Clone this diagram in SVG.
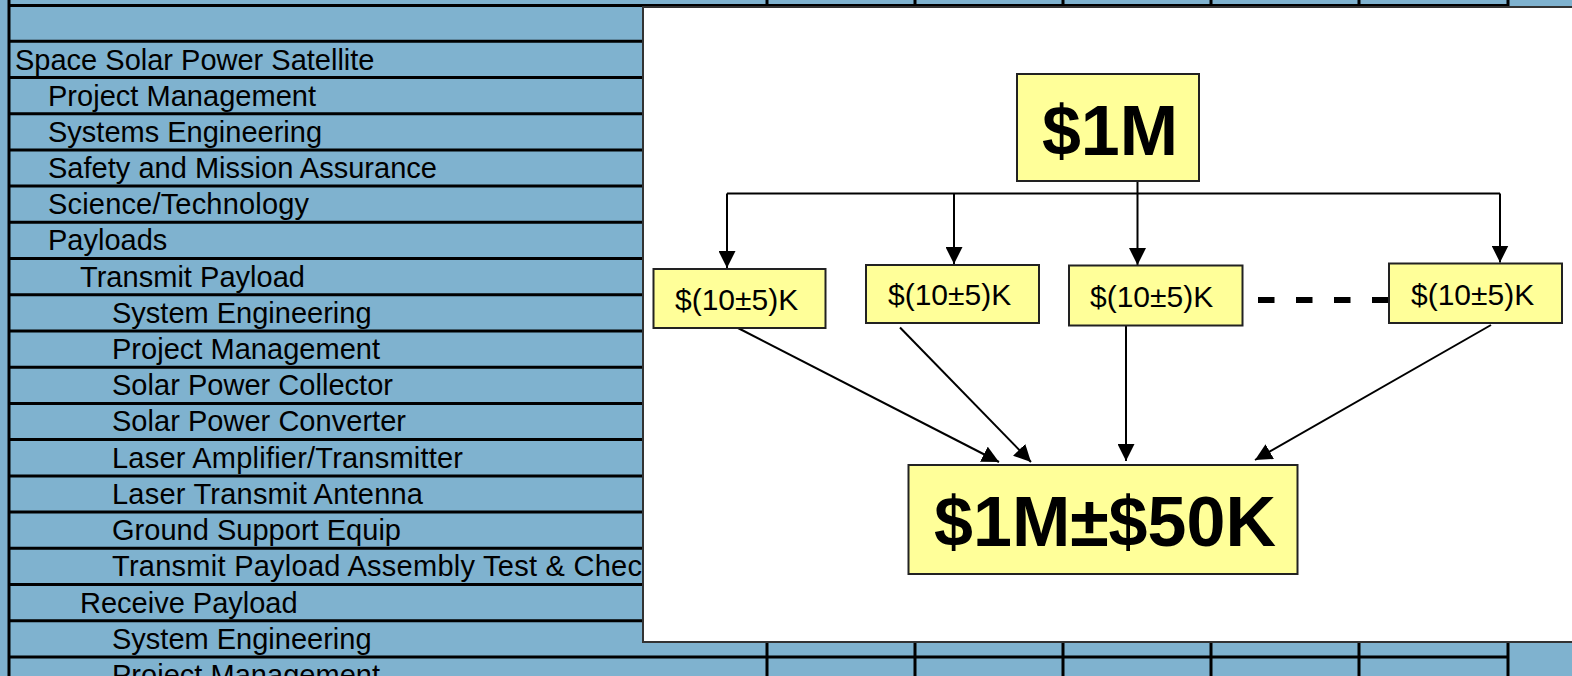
<svg xmlns="http://www.w3.org/2000/svg" width="1572" height="676" viewBox="0 0 1572 676">
<style>
.row{font-family:"Liberation Sans",Arial,sans-serif;font-size:29px;fill:#000}
.tl{stroke:#000;stroke-width:3;fill:none}
.box{fill:#FFFF99;stroke:#222;stroke-width:2}
.sm{font-family:"Liberation Sans",Arial,sans-serif;font-size:30px;fill:#000}
.big{font-family:"Liberation Sans",Arial,sans-serif;font-size:70px;font-weight:bold;fill:#000;text-anchor:middle}
.con{stroke:#000;stroke-width:2;fill:none;marker-end:url(#ah)}
</style>
<defs>
<marker id="ah" viewBox="0 0 17 17" markerWidth="17" markerHeight="17" refX="17" refY="8.5" markerUnits="userSpaceOnUse" orient="auto">
<path d="M0,0 L17,8.5 L0,17 z" fill="#000"/>
</marker>
</defs>
<rect x="0" y="0" width="1572" height="676" fill="#7FB2CF"/>
<g id="table">
<path class="tl" d="M9,0 V676 M767,0 V676 M915,0 V676 M1063,0 V676 M1211,0 V676 M1359,0 V676 M1508,0 V676"/>
<path class="tl" d="M9,5.5 H1508 M9,41.2 H1508 M9,77.4 H1508 M9,113.7 H1508 M9,149.9 H1508 M9,186.1 H1508 M9,222.3 H1508 M9,258.5 H1508 M9,294.8 H1508 M9,331 H1508 M9,367.2 H1508 M9,403.4 H1508 M9,439.6 H1508 M9,475.9 H1508 M9,512.1 H1508 M9,548.3 H1508 M9,584.5 H1508 M9,620.7 H1508 M9,657 H1508"/>
</g>
<g id="labels">
<text class="row" x="15" y="69.5">Space Solar Power Satellite</text>
<text class="row" x="48" y="105.5" textLength="268">Project Management</text>
<text class="row" x="48" y="141.7">Systems Engineering</text>
<text class="row" x="48" y="177.9" textLength="389">Safety and Mission Assurance</text>
<text class="row" x="48" y="214.1" textLength="261">Science/Technology</text>
<text class="row" x="48" y="250.3">Payloads</text>
<text class="row" x="80" y="286.5" textLength="225">Transmit Payload</text>
<text class="row" x="112" y="322.8">System Engineering</text>
<text class="row" x="112" y="359" textLength="268">Project Management</text>
<text class="row" x="112" y="395.2" textLength="281">Solar Power Collector</text>
<text class="row" x="112" y="431.4" textLength="294">Solar Power Converter</text>
<text class="row" x="112" y="467.6" textLength="351">Laser Amplifier/Transmitter</text>
<text class="row" x="112" y="503.9" textLength="311">Laser Transmit Antenna</text>
<text class="row" x="112" y="540.1" textLength="289">Ground Support Equip</text>
<text class="row" x="112" y="576.3" textLength="530">Transmit Payload Assembly Test &amp; Chec</text>
<text class="row" x="80" y="612.5">Receive Payload</text>
<text class="row" x="112" y="648.7">System Engineering</text>
<text class="row" x="112" y="685" textLength="268">Project Management</text>
</g>
<rect id="panel" x="643" y="7" width="940" height="635" fill="#fff" stroke="#333" stroke-width="2"/>
<g id="connectors">
<path d="M727,193.5 H1500" stroke="#000" stroke-width="2" fill="none"/>
<path class="con" d="M727,193.5 V268"/>
<path class="con" d="M954,193.5 V264"/>
<path class="con" d="M1137.5,177 V265"/>
<path class="con" d="M1500,193.5 V262.5"/>
<path class="con" d="M738,328 L999,462"/>
<path class="con" d="M900,327.5 L1031,462"/>
<path class="con" d="M1126,325 V461"/>
<path class="con" d="M1491,325 L1255,460"/>
</g>
<g id="ellipsis">
<path d="M1258,300 H1392" stroke="#000" stroke-width="5.8" stroke-dasharray="16.5 21.5" fill="none"/>
</g>
<g id="n-top">
<rect class="box" x="1017" y="74" width="182" height="107"/>
<text class="big" x="1110" y="155">$1M</text>
</g>
<g id="n-k1">
<rect class="box" x="653.5" y="269" width="172" height="59"/>
<text class="sm" x="675" y="310">$(10±5)K</text>
</g>
<g id="n-k2">
<rect class="box" x="866" y="265" width="173" height="58"/>
<text class="sm" x="888" y="305">$(10±5)K</text>
</g>
<g id="n-k3">
<rect class="box" x="1069" y="265.5" width="173.5" height="60"/>
<text class="sm" x="1090" y="307">$(10±5)K</text>
</g>
<g id="n-k4">
<rect class="box" x="1389" y="263.5" width="173" height="59.5"/>
<text class="sm" x="1411" y="304.5">$(10±5)K</text>
</g>
<g id="n-bottom">
<rect class="box" x="908.5" y="465" width="389" height="109"/>
<text class="big" x="1105" y="546">$1M±$50K</text>
</g>
</svg>
